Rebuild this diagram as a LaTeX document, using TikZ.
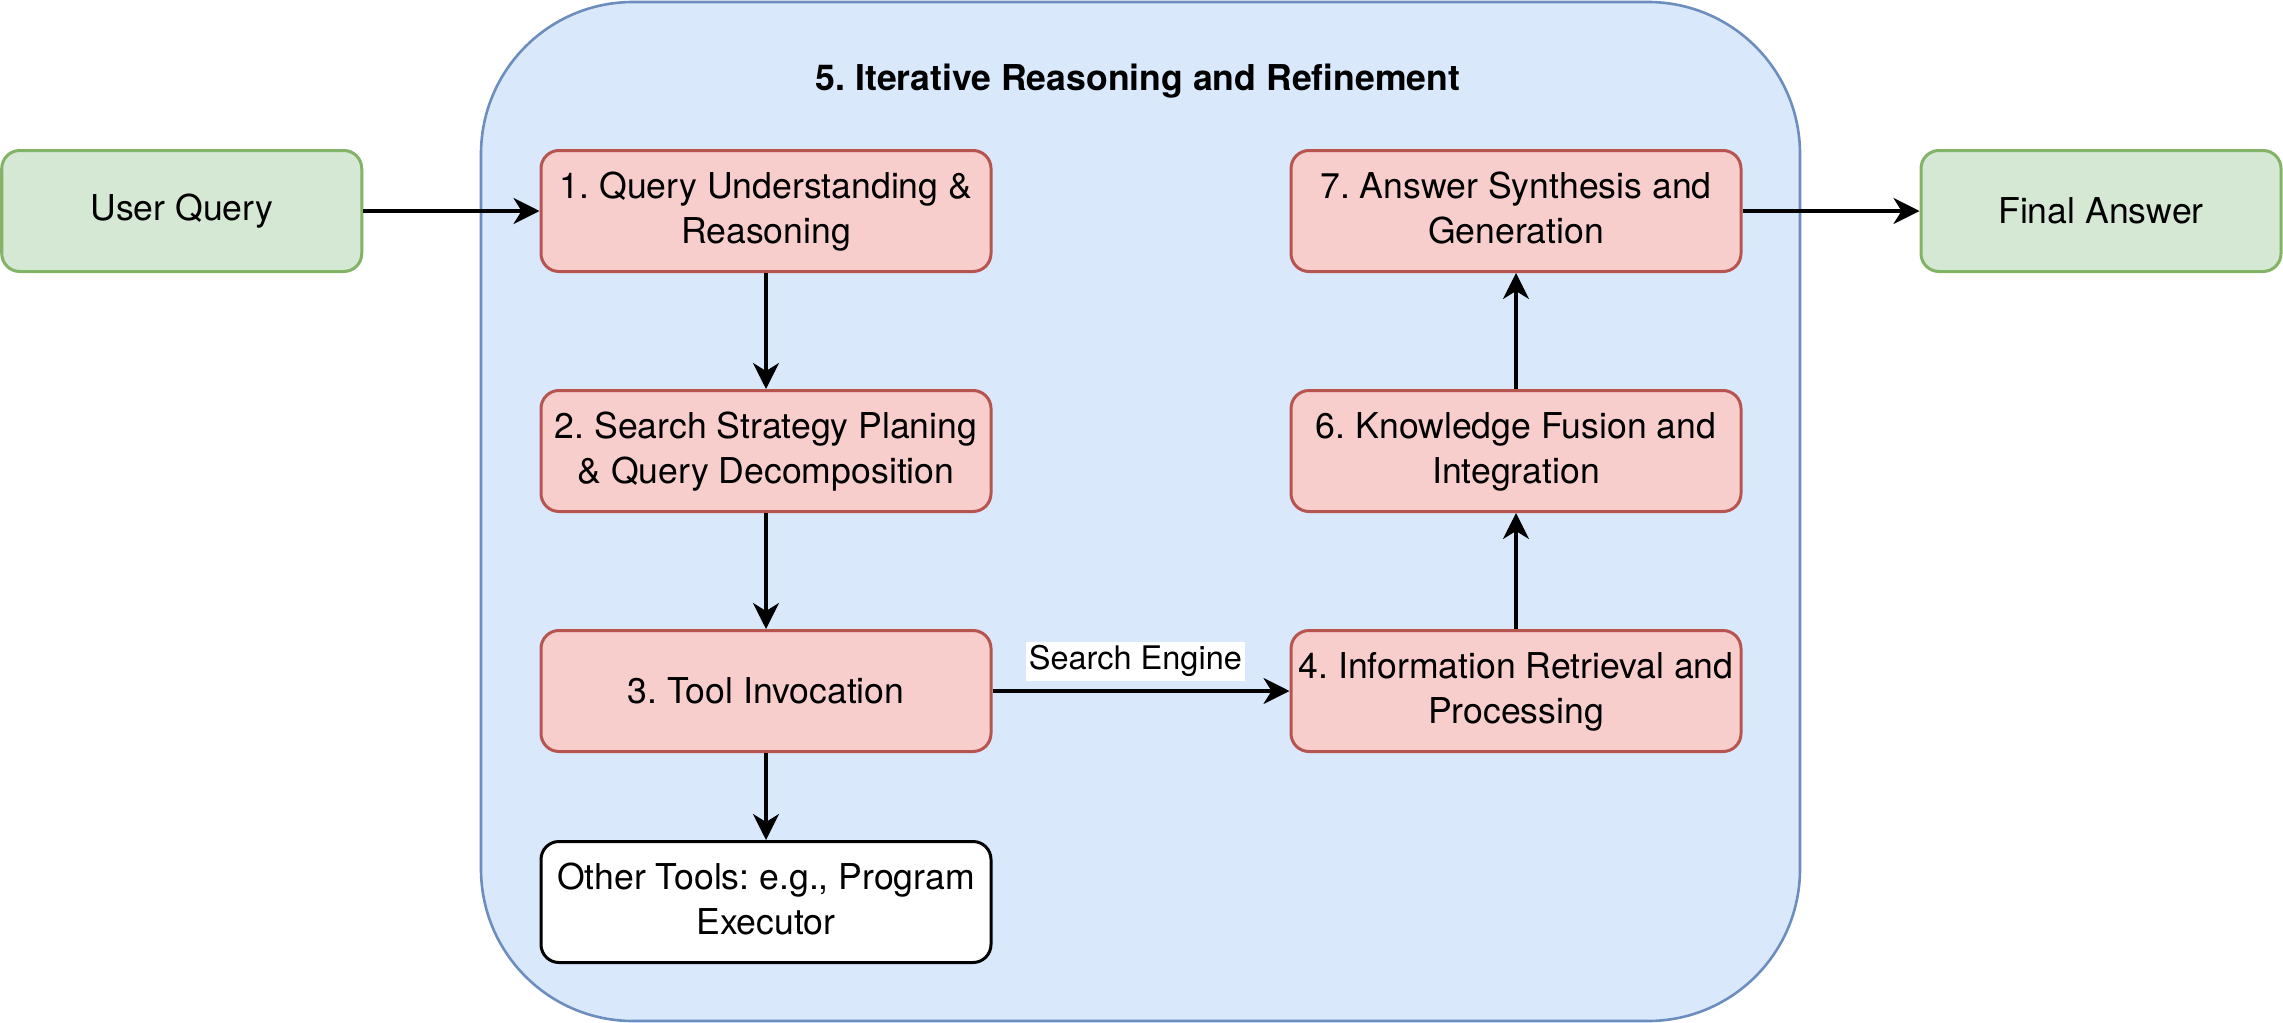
\documentclass[tikz,border=0pt]{standalone}
\usepackage{fontspec}
\setmainfont{TeX Gyre Heros}
\usetikzlibrary{arrows.meta}
\definecolor{gfill}{HTML}{D5E8D4}
\definecolor{gline}{HTML}{82B366}
\definecolor{rfill}{HTML}{F8CECC}
\definecolor{rline}{HTML}{B85450}
\definecolor{bfill}{HTML}{DAE8FC}
\definecolor{bline}{HTML}{6C8EBF}
\newcommand{\myTopStrut}{\rule{0pt}{14.2pt}}
\newcommand{\myBotStrut}{\rule[-4pt]{0pt}{4pt}}
\begin{document}
\frenchspacing
\begin{tikzpicture}[x=0.5pt,y=-0.5pt,
  base/.style={draw, line width=1.5pt, rounded corners=9pt, minimum width=225pt,
    minimum height=60.5pt, inner xsep=1pt, align=center,
    font=\fontsize{17.8pt}{22.7pt}\selectfont},
  redbox/.style={base, fill=rfill, draw=rline},
  greenbox/.style={base, fill=gfill, draw=gline, minimum width=180pt},
  whitebox/.style={base, fill=white, draw=black},
  loopbox/.style={draw=bline, fill=bfill, line width=1.3pt, rounded corners=76pt,
    minimum width=659.5pt, minimum height=509.5pt, inner sep=0pt},
  flow/.style={-{Stealth[length=13pt,width=13pt,inset=4pt]}, line width=1.7pt},
  titletext/.style={font=\bfseries\fontsize{17.8pt}{22.5pt}\selectfont, anchor=base, inner sep=0pt},
  edgelabel/.style={fill=white, inner xsep=1.5pt, inner ysep=0pt, text height=13.5pt,
    text depth=5.7pt, font=\fontsize{16.25pt}{19pt}\selectfont}
]
\useasboundingbox (0,0) rectangle (2283,1023);

\node[loopbox] (loop) at (1140.5,511.5) {};
\node[titletext] (title) at (1138,90) {5. Iterative Reasoning and Refinement};

\node[greenbox] (uq) at (181.75,211) {User Query};
\node[greenbox] (fa) at (2101,211) {Final Answer};

\node[redbox] (b1) at (766,211) {\myTopStrut 1. Query Understanding \&\\Reasoning\myBotStrut};
\node[redbox] (b2) at (766,451) {\myTopStrut 2. Search Strategy Planing\\\& Query Decomposition\myBotStrut};
\node[redbox] (b3) at (766,691) {3. Tool Invocation};
\node[whitebox] (ot) at (766,902) {\myTopStrut Other Tools: e.g., Program\\Executor\myBotStrut};

\node[redbox] (b7) at (1516,211) {\myTopStrut 7. Answer Synthesis and\\Generation\myBotStrut};
\node[redbox] (b6) at (1516,451) {\myTopStrut 6. Knowledge Fusion and\\Integration\myBotStrut};
\node[redbox] (b4) at (1516,691) {\myTopStrut 4. Information Retrieval and\\Processing\myBotStrut};

\draw[flow] (uq) -- (b1);
\draw[flow] (b1) -- (b2);
\draw[flow] (b2) -- (b3);
\draw[flow] (b3) -- (ot);
\draw[flow] (b3) -- (b4);
\draw[flow] (b4) -- (b6);
\draw[flow] (b6) -- (b7);
\draw[flow] (b7) -- (fa);

\node[edgelabel] (se) at (1135.4,661.5) {Search Engine};
\end{tikzpicture}
\end{document}
